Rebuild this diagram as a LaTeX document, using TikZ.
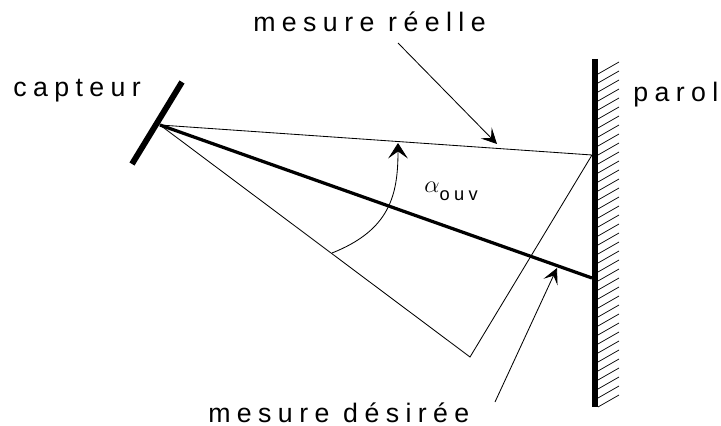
\documentclass[tikz,border=0pt]{standalone}
\usepackage{fontspec}
\setmainfont{Liberation Sans}[LetterSpace=24]
\usetikzlibrary{arrows.meta}

\begin{document}
\begin{tikzpicture}[x=0.025cm,y=-0.025cm,
		thin ray/.style={line width=0.6pt},
		lbl/.style={font=\fontsize{19}{22}\selectfont, inner sep=0pt, anchor=base west},
		pointer/.style={line width=0.6pt, -{Stealth[length=11pt,width=11pt,inset=5pt]}}]
			\useasboundingbox (0,0) rectangle (721,426);
			
			% capteur
			\coordinate (S) at (160,125);
			\coordinate (S1) at (182,82);
			\coordinate (S2) at (132,164);
			\draw[line width=4.2pt] (S1) -- (S2);
			
			% paroi
			\coordinate (W1) at (595,59);
			\coordinate (W2) at (595,407);
			\draw[line width=4.2pt] (W1) -- (W2);
			\foreach \y in {74,83,...,407}
				\draw[line width=0.5pt] (598,\y) -- ({619},{\y-12});
			
			% faisceau
			\coordinate (A) at (592,155);
			\coordinate (B) at (592,278);
			\coordinate (C) at (470,357);
			\draw[thin ray] (S) -- (A) -- (C) -- cycle;
			\draw[line width=2.3pt] (S) -- (B);
			
			% angle d'ouverture
			\coordinate (R1) at (332,253);
			\coordinate (R2) at (398,143);
			\draw[pointer, -{Stealth[length=11pt,width=14pt,inset=5pt]}] (R1) .. controls (390,230) and (398,195) .. (R2);
			\node[font=\fontsize{19}{22}\selectfont, inner sep=0pt, anchor=base west] (alpha) at (424,192)
				{$\alpha$\raisebox{-0.3em}{\fontsize{13}{15}\selectfont ouv}};
			
			% textes
			\node[lbl] (capteur) at (13,97) {capteur};
			\node[lbl] (reelle) at (253,32) {mesure réelle};
			\node[lbl] (parol) at (633,102) {parol};
			\node[lbl] (desiree) at (208,422) {mesure désirée};
			
			\coordinate (reelle tail) at (398,43);
			\coordinate (reelle tip) at (497,144);
			\draw[pointer] (reelle tail) -- (reelle tip);
			
			\coordinate (desiree tail) at (495,402);
			\coordinate (desiree tip) at (557,268);
			\draw[pointer] (desiree tail) -- (desiree tip);
		\end{tikzpicture}
\end{document}
